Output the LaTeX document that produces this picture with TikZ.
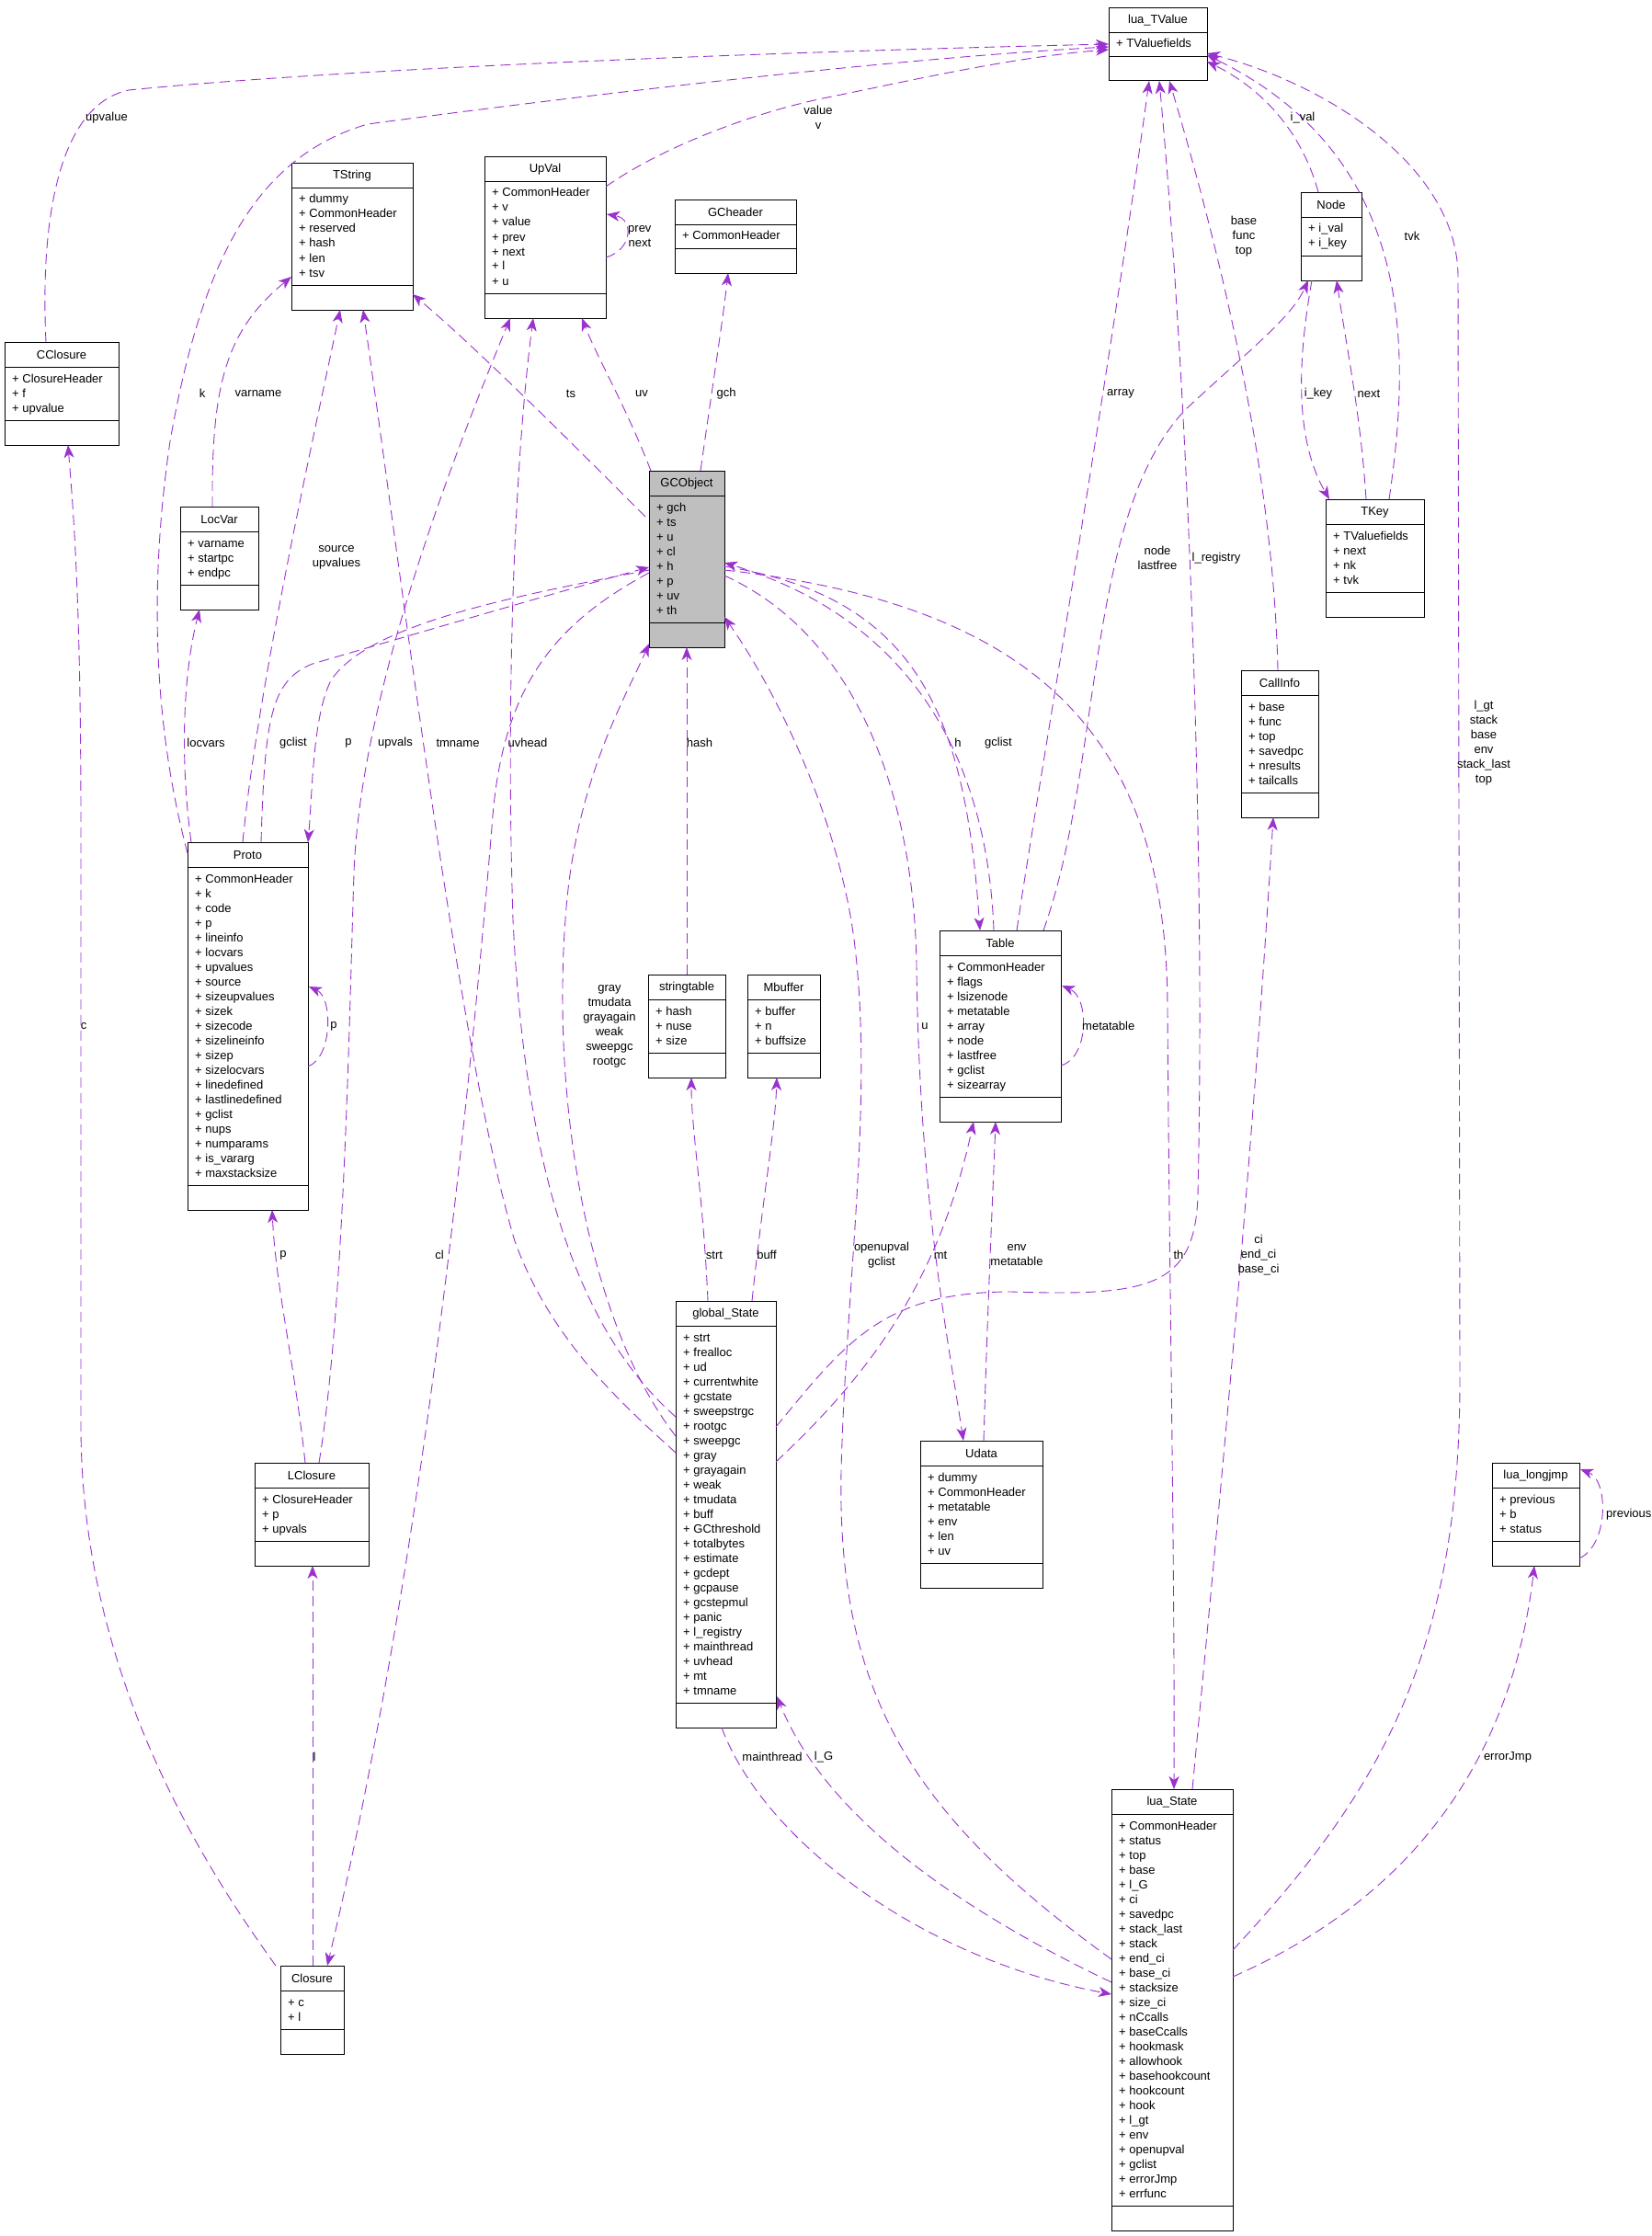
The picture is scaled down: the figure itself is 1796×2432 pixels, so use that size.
\documentclass[tikz,border=0pt]{standalone}
\usepackage{fontspec}
\setmainfont{Liberation Sans}
\usepackage{tikz}
\usetikzlibrary{arrows.meta,calc}
\definecolor{morado}{RGB}{154,50,205}
\definecolor{grisgc}{RGB}{191,191,191}

% caja de clase: [estilo], nombre, titulo, x, y, ancho, atributos
\newcommand{\clase}[7][]{%
  \def\nattr{0}%
  \foreach \a [count=\i] in {#7} {\xdef\nattr{\i}}%
  \pgfmathsetmacro{\alto}{\nattr*16+63.5}%
  \pgfmathsetmacro{\lineab}{#5+37+\nattr*16}%
  \node[caja, #1, minimum width=#6pt, minimum height=\alto pt, anchor=north west] (#2) at (#4,#5) {};
  \node (#2-t) at ({#4+#6/2},{#5+14}) {#3};
  \draw (#4,{#5+27}) -- ++(#6,0);
  \draw (#4,\lineab) -- ++(#6,0);
  \foreach \a [count=\i] in {#7}
    \node[anchor=base west] (#2-a\i) at ({#4+8},{#5+28+\i*16}) {+ \a};
}

\begin{document}
\begin{tikzpicture}[x=1pt, y=-1pt, inner sep=0pt, font=\fontsize{13}{16}\selectfont,
    caja/.style={draw, line width=1pt, fill=white},
    flecha/.style={morado, line width=0.9pt, dash pattern=on 11pt off 6pt,
      -{Stealth[length=14pt,width=11pt,inset=4pt]}},
    etiqueta/.style={align=center}]
    \fill[white] (0,0) rectangle (1796,2432);
    \useasboundingbox (0,0) rectangle (1796,2432);

    % clases
    \clase{tvalue}{lua\_TValue}{1206}{8}{107}{TValuefields}
    \clase{tstring}{TString}{317}{177}{132}{dummy,CommonHeader,reserved,hash,len,tsv}
    \clase{upval}{UpVal}{527}{170}{132}{CommonHeader,v,value,prev,next,l,u}
    \clase{gcheader}{GCheader}{734}{217}{132}{CommonHeader}
    \clase{nodo}{Node}{1415}{209}{66}{i\_val,i\_key}
    \clase{cclosure}{CClosure}{5}{372}{124}{ClosureHeader,f,upvalue}
    \clase[fill=grisgc]{gcobject}{GCObject}{706}{512}{82}{gch,ts,u,cl,h,p,uv,th}
    \clase{tkey}{TKey}{1442}{543}{107}{TValuefields,next,nk,tvk}
    \clase{locvar}{LocVar}{196}{551}{85}{varname,startpc,endpc}
    \clase{callinfo}{CallInfo}{1350}{729}{84}{base,func,top,savedpc,nresults,tailcalls}
    \clase{proto}{Proto}{204}{916}{131}{CommonHeader,k,code,p,lineinfo,locvars,upvalues,source,sizeupvalues,sizek,sizecode,sizelineinfo,sizep,sizelocvars,linedefined,lastlinedefined,gclist,nups,numparams,is\_vararg,maxstacksize}
    \clase{table}{Table}{1022}{1012}{132}{CommonHeader,flags,lsizenode,metatable,array,node,lastfree,gclist,sizearray}
    \clase{stringtable}{stringtable}{705}{1060}{84}{hash,nuse,size}
    \clase{mbuffer}{Mbuffer}{813}{1060}{79}{buffer,n,buffsize}
    \clase{globalstate}{global\_State}{735}{1415}{109}{strt,frealloc,ud,currentwhite,gcstate,sweepstrgc,rootgc,sweepgc,gray,grayagain,weak,tmudata,buff,GCthreshold,totalbytes,estimate,gcdept,gcpause,gcstepmul,panic,l\_registry,mainthread,uvhead,mt,tmname}
    \clase{udata}{Udata}{1001}{1567}{133}{dummy,CommonHeader,metatable,env,len,uv}
    \clase{lclosure}{LClosure}{277}{1591}{124}{ClosureHeader,p,upvals}
    \clase{longjmp}{lua\_longjmp}{1623}{1591}{95}{previous,b,status}
    \clase{luastate}{lua\_State}{1209}{1946}{132}{CommonHeader,status,top,base,l\_G,ci,savedpc,stack\_last,stack,end\_ci,base\_ci,stacksize,size\_ci,nCcalls,baseCcalls,hookmask,allowhook,basehookcount,hookcount,hook,l\_gt,env,openupval,gclist,errorJmp,errfunc}
    \clase{closure}{Closure}{305}{2138}{69}{c,l}

    % hacia lua_TValue
    \draw[flecha] ($(cclosure.north west)+(45,0)$) .. controls (44,250) and (60,115) .. (140,98) .. controls (400,72) and (900,55) .. ($(tvalue.north west)+(0,40)$);
    \draw[flecha] ($(proto.north west)+(0,12)$) .. controls (170,800) and (160,650) .. (185,480) .. controls (220,280) and (280,170) .. (400,135) .. controls (700,95) and (1000,62) .. ($(tvalue.north west)+(0,43)$);
    \draw[flecha] ($(upval.north west)+(132,33)$) .. controls (720,160) and (820,122) .. (900,106) .. controls (980,90) and (1100,62) .. ($(tvalue.north west)+(0,46)$);
    \draw[flecha] ($(table.north west)+(84,0)$) .. controls (1130,850) and (1200,450) .. ($(tvalue.north west)+(44,80)$);
    \draw[flecha] ($(globalstate.north west)+(109,137)$) .. controls (920,1460) and (960,1405) .. (1100,1405) .. controls (1250,1410) and (1300,1400) .. (1303,1300) .. controls (1312,900) and (1290,400) .. ($(tvalue.north west)+(55,80)$);
    \draw[flecha] ($(callinfo.north west)+(40,0)$) .. controls (1385,500) and (1320,250) .. ($(tvalue.north west)+(66,80)$);
    \draw[flecha] ($(nodo.north west)+(19,0)$) .. controls (1415,140) and (1370,95) .. ($(tvalue.north west)+(107,59)$);
    \draw[flecha] ($(tkey.north west)+(69,0)$) .. controls (1535,380) and (1540,170) .. ($(tvalue.north west)+(107,52)$);
    \draw[flecha] ($(luastate.north west)+(132,175)$) .. controls (1500,1950) and (1588,1800) .. (1588,1500) -- (1586,300) .. controls (1585,180) and (1440,90) .. ($(tvalue.north west)+(107,50)$);

    % lazos
    \draw[flecha] ($(upval.north west)+(132,110)$) .. controls (688,272) and (690,238) .. ($(upval.north west)+(133,63)$);
    \draw[flecha] ($(proto.north west)+(131,244)$) .. controls (362,1150) and (362,1085) .. ($(proto.north west)+(132,157)$);
    \draw[flecha] ($(table.north west)+(132,147)$) .. controls (1185,1150) and (1185,1085) .. ($(table.north west)+(133,60)$);
    \draw[flecha] ($(longjmp.north west)+(95,104)$) .. controls (1750,1680) and (1750,1610) .. ($(longjmp.north west)+(96,7)$);

    % TString, LocVar, Proto
    \draw[flecha] ($(locvar.north west)+(35,0)$) .. controls (230,420) and (245,360) .. ($(tstring.north west)+(0,124)$);
    \draw[flecha] ($(proto.north west)+(4,0)$) .. controls (195,820) and (200,730) .. ($(locvar.north west)+(21,112)$);
    \draw[flecha] ($(proto.north west)+(60,0)$) .. controls (280,750) and (340,480) .. ($(tstring.north west)+(53,160)$);
    \draw[flecha] ($(proto.north west)+(80,0)$) .. controls (288,780) and (295,740) .. (340,722) .. controls (450,690) and (620,640) .. ($(gcobject.north west)+(0,105)$);

    % desde GCObject
    \draw[flecha] ($(gcobject.north west)+(0,108)$) .. controls (550,650) and (400,680) .. (360,740) .. controls (340,780) and (340,860) .. ($(proto.north west)+(131,0)$);
    \draw[flecha] ($(gcobject.north west)+(0,111)$) .. controls (600,680) and (545,750) .. (535,900) .. controls (510,1200) and (460,1700) .. ($(closure.north west)+(51,0)$);
    \draw[flecha] ($(gcobject.north west)+(-4,50)$) .. controls (620,480) and (520,380) .. ($(tstring.north west)+(132,143)$);
    \draw[flecha] ($(gcobject.north west)+(2,0)$) .. controls (680,440) and (650,390) .. ($(upval.north west)+(106,176)$);
    \draw[flecha] ($(gcobject.north west)+(56,0)$) .. controls (775,420) and (786,350) .. ($(gcheader.north west)+(58,80)$);
    \draw[flecha] ($(gcobject.north west)+(82,114)$) .. controls (950,700) and (995,900) .. (997,1050) .. controls (1000,1300) and (1030,1450) .. ($(udata.north west)+(47,0)$);
    \draw[flecha] ($(gcobject.north west)+(82,104)$) .. controls (1000,650) and (1050,780) .. ($(table.north west)+(44,0)$);
    \draw[flecha] ($(gcobject.north west)+(82,108)$) .. controls (1150,660) and (1270,820) .. (1270,1100) .. controls (1272,1400) and (1278,1700) .. ($(luastate.north west)+(68,0)$);

    % hacia GCObject
    \draw[flecha] ($(stringtable.north west)+(42,0)$) -- ($(gcobject.north west)+(41,192)$);
    \draw[flecha] ($(table.north west)+(59,0)$) .. controls (1075,850) and (1010,680) .. ($(gcobject.north west)+(82,100)$);
    \draw[flecha] ($(globalstate.north west)+(0,147)$) .. controls (640,1440) and (600,1200) .. (615,1000) .. controls (625,850) and (680,760) .. ($(gcobject.north west)+(0,188)$);
    \draw[flecha] ($(luastate.north west)+(0,185)$) .. controls (1000,1980) and (910,1850) .. (915,1600) .. controls (920,1400) and (950,1200) .. (930,1030) .. controls (915,900) and (850,760) .. ($(gcobject.north west)+(82,159)$);

    % global_State
    \draw[flecha] ($(globalstate.north west)+(0,126)$) .. controls (620,1440) and (570,1250) .. (558,1000) .. controls (550,750) and (560,500) .. ($(upval.north west)+(53,176)$);
    \draw[flecha] ($(globalstate.north west)+(0,165)$) .. controls (680,1530) and (600,1460) .. (560,1350) .. controls (500,1150) and (440,650) .. ($(tstring.north west)+(78,160)$);
    \draw[flecha] ($(globalstate.north west)+(35,0)$) .. controls (765,1300) and (752,1230) .. ($(stringtable.north west)+(47,112)$);
    \draw[flecha] ($(globalstate.north west)+(83,0)$) .. controls (830,1300) and (843,1230) .. ($(mbuffer.north west)+(32,112)$);
    \draw[flecha] ($(globalstate.north west)+(109,175)$) .. controls (940,1500) and (1020,1400) .. ($(table.north west)+(37,208)$);
    \draw[flecha] ($(globalstate.north west)+(50,464)$) .. controls (830,2000) and (1000,2130) .. ($(luastate.north west)+(0,223)$);

    % closures
    \draw[flecha] ($(lclosure.north west)+(70,0)$) .. controls (375,1420) and (380,1100) .. (385,950) .. controls (392,750) and (500,480) .. ($(upval.north west)+(28,176)$);
    \draw[flecha] ($(lclosure.north west)+(55,0)$) .. controls (320,1480) and (300,1400) .. ($(proto.north west)+(92,400)$);
    \draw[flecha] ($(closure.north west)+(-5,0)$) .. controls (200,2000) and (88,1800) .. (88,1550) -- (88,900) .. controls (88,650) and (80,560) .. ($(cclosure.north west)+(69,112)$);
    \draw[flecha] ($(closure.north west)+(35,0)$) -- ($(lclosure.north west)+(63,112)$);

    % Table, Node, TKey, Udata
    \draw[flecha] ($(udata.north west)+(69,0)$) .. controls (1075,1400) and (1080,1300) .. ($(table.north west)+(61,208)$);
    \draw[flecha] ($(table.north west)+(113,0)$) .. controls (1200,830) and (1180,560) .. (1290,445) .. controls (1360,380) and (1405,345) .. ($(nodo.north west)+(8,96)$);
    \draw[flecha] ($(nodo.north west)+(12,96)$) .. controls (1410,400) and (1410,480) .. ($(tkey.north west)+(4,0)$);
    \draw[flecha] ($(tkey.north west)+(44,0)$) .. controls (1480,450) and (1465,380) .. ($(nodo.north west)+(39,96)$);

    % lua_State
    \draw[flecha] ($(luastate.north west)+(88,0)$) .. controls (1320,1700) and (1360,1300) .. ($(callinfo.north west)+(35,160)$);
    \draw[flecha] ($(luastate.north west)+(0,210)$) .. controls (1050,2080) and (900,1980) .. ($(globalstate.north west)+(110,430)$);
    \draw[flecha] ($(luastate.north west)+(132,204)$) .. controls (1500,2080) and (1640,1950) .. ($(longjmp.north west)+(46,112)$);

    % etiquetas
    \node[etiqueta] (e-upvalue) at (116,128) {upvalue};
    \node[etiqueta] (e-value) at (890,128) {value\\v};
    \node[etiqueta, anchor=west] (e-prev) at (683,257) {prev\\next};
    \node[etiqueta] (e-k) at (220,428) {k};
    \node[etiqueta] (e-varname) at (281,428) {varname};
    \node[etiqueta] (e-ts) at (621,428) {ts};
    \node[etiqueta] (e-uv) at (698,428) {uv};
    \node[etiqueta] (e-gch) at (790,428) {gch};
    \node[etiqueta] (e-array) at (1219,428) {array};
    \node[etiqueta] (e-ikey) at (1434,428) {i\_key};
    \node[etiqueta] (e-next) at (1489,428) {next};
    \node[etiqueta] (e-ival) at (1417,128) {i\_val};
    \node[etiqueta] (e-tvk) at (1536,257) {tvk};
    \node[etiqueta] (e-base) at (1353,257) {base\\func\\top};
    \node[etiqueta] (e-source) at (366,606) {source\\upvalues};
    \node[etiqueta] (e-node) at (1259,607) {node\\lastfree};
    \node[etiqueta] (e-lreg) at (1323,607) {l\_registry};
    \node[etiqueta] (e-lgt) at (1614,808) {l\_gt\\stack\\base\\env\\stack\_last\\top};
    \node[etiqueta] (e-locvars) at (224,808) {locvars};
    \node[etiqueta] (e-pgclist) at (319,808) {gclist};
    \node[etiqueta] (e-p) at (379,808) {p};
    \node[etiqueta] (e-upvals) at (430,808) {upvals};
    \node[etiqueta] (e-tmname) at (498,808) {tmname};
    \node[etiqueta] (e-uvhead) at (574,808) {uvhead};
    \node[etiqueta] (e-hash) at (761,808) {hash};
    \node[etiqueta] (e-h) at (1042,808) {h};
    \node[etiqueta] (e-tgclist) at (1086,808) {gclist};
    \node[etiqueta] (e-c) at (91,1116) {c};
    \node[etiqueta] (e-pp) at (363,1116) {p};
    \node[etiqueta] (e-u) at (1006,1116) {u};
    \node[etiqueta, anchor=west] (e-meta) at (1177,1116) {metatable};
    \node[etiqueta] (e-gray) at (663,1116) {gray\\tmudata\\grayagain\\weak\\sweepgc\\rootgc};
    \node[etiqueta] (e-lp) at (308,1365) {p};
    \node[etiqueta] (e-cl) at (478,1365) {cl};
    \node[etiqueta] (e-strt) at (777,1365) {strt};
    \node[etiqueta] (e-buff) at (834,1365) {buff};
    \node[etiqueta] (e-openupval) at (959,1365) {openupval\\gclist};
    \node[etiqueta] (e-mt) at (1023,1365) {mt};
    \node[etiqueta] (e-env) at (1106,1365) {env\\metatable};
    \node[etiqueta] (e-th) at (1282,1365) {th};
    \node[etiqueta] (e-ci) at (1369,1365) {ci\\end\_ci\\base\_ci};
    \node[etiqueta] (e-l) at (342,1911) {l};
    \node[etiqueta] (e-main) at (840,1911) {mainthread};
    \node[etiqueta] (e-lG) at (896,1911) {l\_G};
    \node[etiqueta] (e-error) at (1640,1911) {errorJmp};
    \node[etiqueta, anchor=west] (e-previous) at (1747,1647) {previous};
\end{tikzpicture}
\end{document}
